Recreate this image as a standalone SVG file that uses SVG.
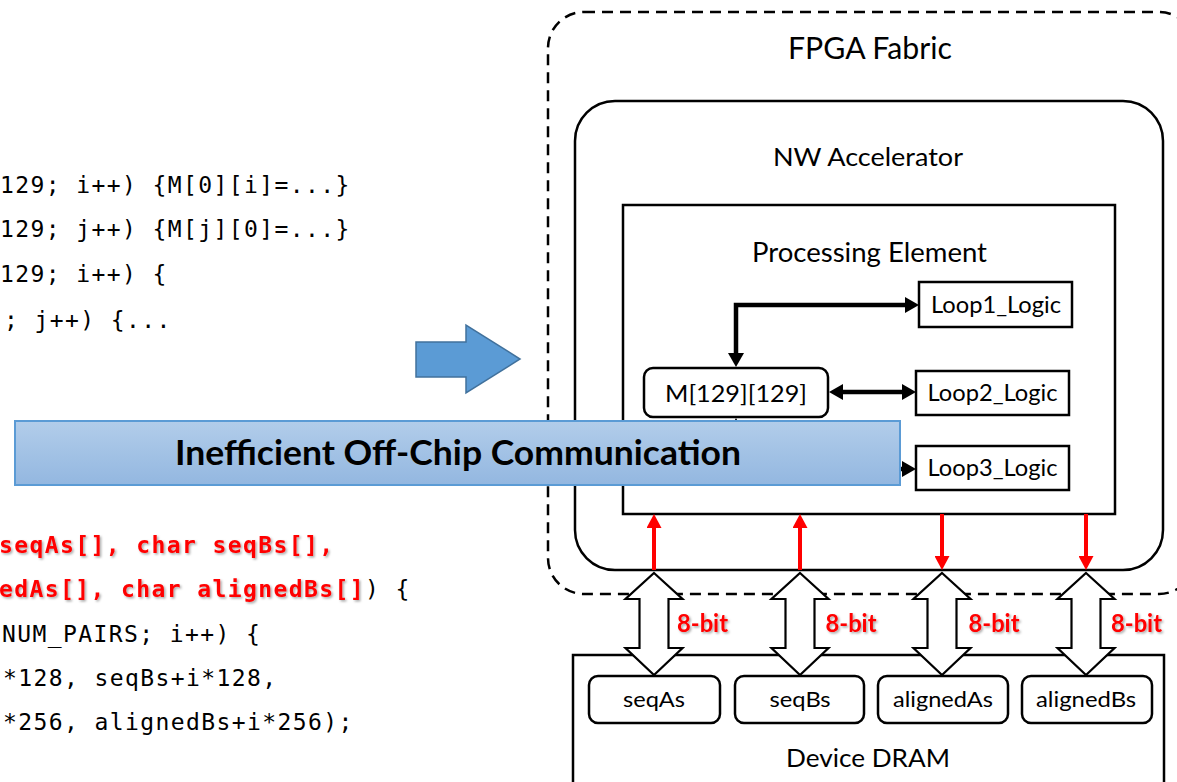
<svg xmlns="http://www.w3.org/2000/svg" width="1177" height="782" viewBox="0 0 1177 782">
  <style>
    .lbl { font-family: Lato, "Liberation Sans", sans-serif; fill: #000; text-anchor: middle; }
    .box { fill: #fff; stroke: #000; stroke-width: 2.5; }
    .code { font-family: "DejaVu Sans Mono", "Liberation Mono", monospace; font-size: 23px; letter-spacing: 1.4px; fill: #000; }
    .hot { fill: #ff0000; font-weight: bold; }
    .blk { fill: none; stroke: #000; stroke-width: 4.5; }
    .red { fill: none; stroke: #ff0000; stroke-width: 4; }
    .bus { fill: #fff; stroke: #000; stroke-width: 2.2; stroke-linejoin: miter; }
    .bits { font-family: Lato, "Liberation Sans", sans-serif; font-weight: bold; font-size: 24px; fill: #ff0000; text-anchor: middle; }
  </style>
  <defs>
    <marker id="headBlack" markerUnits="userSpaceOnUse" viewBox="0 -8 14 16" refX="0" refY="0" markerWidth="14" markerHeight="16" orient="auto-start-reverse">
      <path d="M0,-8 L14,0 L0,8 z" fill="#000"/>
    </marker>
    <marker id="headRed" markerUnits="userSpaceOnUse" viewBox="0 -7.5 14 15" refX="0" refY="0" markerWidth="14" markerHeight="15" orient="auto-start-reverse">
      <path d="M0,-7.5 L14,0 L0,7.5 z" fill="#ff0000"/>
    </marker>
    <linearGradient id="bannerFill" x1="0" y1="0" x2="0" y2="1">
      <stop offset="0" stop-color="#b2cdea"/>
      <stop offset="1" stop-color="#93b7e0"/>
    </linearGradient>
    <filter id="shadow" x="-5%" y="-20%" width="115%" height="150%">
      <feDropShadow dx="1.5" dy="1.5" stdDeviation="0.8" flood-color="#000" flood-opacity="0.35"/>
    </filter>
  </defs>

  <!-- FPGA fabric boundary -->
  <g id="fpga-fabric">
    <rect x="548" y="12" width="647" height="582" rx="36" fill="none" stroke="#000" stroke-width="2.5" stroke-dasharray="11 7"/>
    <text class="lbl" x="870" y="59" font-size="31" textLength="164" lengthAdjust="spacingAndGlyphs">FPGA Fabric</text>
  </g>

  <!-- accelerator -->
  <g id="nw-accelerator">
    <rect class="box" x="575" y="101" width="588" height="469" rx="40"/>
    <text class="lbl" x="868" y="166" font-size="24.5" textLength="190" lengthAdjust="spacingAndGlyphs">NW Accelerator</text>
  </g>

  <g id="processing-element">
    <rect class="box" x="623" y="205" width="492" height="309"/>
    <text class="lbl" x="869.5" y="262" font-size="26" textLength="235" lengthAdjust="spacingAndGlyphs">Processing Element</text>
  </g>

  <g id="m-array">
    <rect class="box" x="644" y="368" width="184" height="49" rx="9"/>
    <text class="lbl" x="736" y="401.5" font-size="23" textLength="142" lengthAdjust="spacingAndGlyphs">M[129][129]</text>
  </g>

  <g id="loop1-logic">
    <rect class="box" x="919" y="282" width="153" height="45"/>
    <text class="lbl" x="996" y="313" font-size="23" textLength="130" lengthAdjust="spacingAndGlyphs">Loop1_Logic</text>
  </g>
  <g id="loop2-logic">
    <rect class="box" x="916" y="371" width="153" height="44"/>
    <text class="lbl" x="992.5" y="401" font-size="23" textLength="130" lengthAdjust="spacingAndGlyphs">Loop2_Logic</text>
  </g>
  <g id="loop3-logic">
    <rect class="box" x="916" y="446" width="153" height="44"/>
    <text class="lbl" x="992.5" y="476" font-size="23" textLength="130" lengthAdjust="spacingAndGlyphs">Loop3_Logic</text>
  </g>

  <!-- off-chip memory -->
  <g id="device-dram">
    <rect class="box" x="573" y="655" width="591" height="140"/>
    <text class="lbl" x="868" y="767" font-size="25.5" textLength="164" lengthAdjust="spacingAndGlyphs">Device DRAM</text>
  </g>
  <g id="buf-seqAs">
    <rect class="box" x="589" y="676" width="131" height="47" rx="9"/>
    <text class="lbl" x="654" y="706.5" font-size="21" textLength="62" lengthAdjust="spacingAndGlyphs">seqAs</text>
  </g>
  <g id="buf-seqBs">
    <rect class="box" x="735" y="676" width="129" height="47" rx="9"/>
    <text class="lbl" x="800" y="706.5" font-size="21" textLength="61" lengthAdjust="spacingAndGlyphs">seqBs</text>
  </g>
  <g id="buf-alignedAs">
    <rect class="box" x="878" y="676" width="130" height="47" rx="9"/>
    <text class="lbl" x="943" y="706.5" font-size="21" textLength="100" lengthAdjust="spacingAndGlyphs">alignedAs</text>
  </g>
  <g id="buf-alignedBs">
    <rect class="box" x="1022" y="676" width="130" height="47" rx="9"/>
    <text class="lbl" x="1086" y="706.5" font-size="21" textLength="100" lengthAdjust="spacingAndGlyphs">alignedBs</text>
  </g>

  <!-- connectors -->
  <g id="connectors">
    <!-- on-chip links between M and the loop logic -->
    <path class="blk" d="M736,353 V305 H905" marker-start="url(#headBlack)" marker-end="url(#headBlack)"/>
    <path class="blk" d="M843,392 H902" marker-start="url(#headBlack)" marker-end="url(#headBlack)"/>
    <path class="blk" d="M736,432 V469 H902" marker-start="url(#headBlack)" marker-end="url(#headBlack)"/>

    <!-- red ports into / out of the PE -->
    <path class="red" d="M654,570 V528" marker-end="url(#headRed)"/>
    <path class="red" d="M800,570 V528" marker-end="url(#headRed)"/>
    <path class="red" d="M942,514 V556" marker-end="url(#headRed)"/>
    <path class="red" d="M1086,514 V556" marker-end="url(#headRed)"/>

    <!-- 8-bit off-chip buses -->
    <polygon class="bus" points="654,573 682.5,599 668.5,599 668.5,648 682.5,648 654,675 625.5,648 639.5,648 639.5,599 625.5,599"/>
    <polygon class="bus" points="800,573 828.5,599 814.5,599 814.5,648 828.5,648 800,675 771.5,648 785.5,648 785.5,599 771.5,599"/>
    <polygon class="bus" points="942,573 970.5,599 956.5,599 956.5,648 970.5,648 942,675 913.5,648 927.5,648 927.5,599 913.5,599"/>
    <polygon class="bus" points="1086,573 1114.5,599 1100.5,599 1100.5,648 1114.5,648 1086,675 1057.5,648 1071.5,648 1071.5,599 1057.5,599"/>

    <g filter="url(#shadow)">
      <text class="bits" x="702.5" y="631.5" textLength="51" lengthAdjust="spacingAndGlyphs">8-bit</text>
      <text class="bits" x="851" y="631.5" textLength="51" lengthAdjust="spacingAndGlyphs">8-bit</text>
      <text class="bits" x="994" y="631.5" textLength="51" lengthAdjust="spacingAndGlyphs">8-bit</text>
      <text class="bits" x="1136.5" y="631.5" textLength="51" lengthAdjust="spacingAndGlyphs">8-bit</text>
    </g>
  </g>

  <!-- source code excerpts -->
  <g id="code-loops">
    <text class="code" x="0" y="193">129; i++) {M[0][i]=...}</text>
    <text class="code" x="0" y="237">129; j++) {M[j][0]=...}</text>
    <text class="code" x="0" y="282">129; i++) {</text>
    <text class="code" x="4" y="328">; j++) {...</text>
  </g>
  <g id="code-host">
    <text class="code hot" x="-1" y="553" filter="url(#shadow)">seqAs[], char seqBs[],</text>
    <text class="code" x="-1" y="597"><tspan class="hot" filter="url(#shadow)">edAs[], char alignedBs[]</tspan>) {</text>
    <text class="code" x="2" y="641.5">NUM_PAIRS; i++) {</text>
    <text class="code" x="3" y="686">*128, seqBs+i*128,</text>
    <text class="code" x="3" y="730">*256, alignedBs+i*256);</text>
  </g>

  <!-- transformation arrow -->
  <g id="transform-arrow">
    <polygon points="416,342 466,342 466,325 520,359 466,393 466,377 416,377" fill="#5b9bd5" stroke="#41719c" stroke-width="1.5"/>
  </g>

  <!-- banner -->
  <g id="banner">
    <rect x="15" y="421" width="885" height="64" fill="url(#bannerFill)" stroke="#5b9bd5" stroke-width="2"/>
    <text x="458" y="465" font-family="Lato, 'Liberation Sans', sans-serif" font-weight="bold" font-size="33.5" text-anchor="middle" textLength="566" lengthAdjust="spacingAndGlyphs">Inefficient Off-Chip Communication</text>
  </g>
</svg>
